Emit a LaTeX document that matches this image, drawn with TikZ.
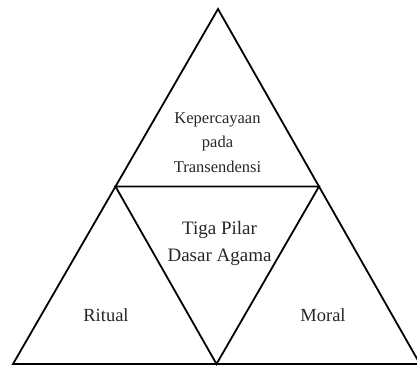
\documentclass[tikz,border=0pt]{standalone}
\usepackage{fontspec}
\setmainfont{Liberation Serif}
\usetikzlibrary{calc}
\begin{document}
\begin{tikzpicture}[x=1pt,y=-1pt,
  edge/.style={line width=1.8pt, line join=miter, black},
  smalltxt/.style={anchor=base, inner sep=0pt, font=\fontsize{16.5}{20}\selectfont, text=black!85},
  bigtxt/.style={anchor=base, inner sep=0pt, font=\fontsize{18.5}{22}\selectfont, text=black!85},
  midtxt/.style={anchor=base, inner sep=0pt, font=\fontsize{19}{22}\selectfont, text=black!85}]
\useasboundingbox (0,0) rectangle (417,367);
\coordinate (A) at (218,9);
\coordinate (B) at (13,364);
\coordinate (C) at (420,364);
\coordinate (L) at ($(A)!0.5!(B)$);
\coordinate (R) at ($(A)!0.5!(C)$);
\coordinate (M) at ($(B)!0.5!(C)$);
\draw[edge] (A) -- (B) -- (C) -- cycle;
\draw[edge] (L) -- (R) -- (M) -- cycle;
\node[smalltxt] (k1) at (217.5,123.5) {Kepercayaan};
\node[smalltxt] (k2) at (217.5,147.5) {pada};
\node[smalltxt] (k3) at (217.5,172) {Transendensi};
\node[midtxt] (t1) at (219.5,234) {Tiga Pilar};
\node[midtxt] (t2) at (219.5,261) {Dasar Agama};
\node[bigtxt] (r) at (106,321) {Ritual};
\node[bigtxt] (m) at (323,321) {Moral};
\end{tikzpicture}
\end{document}
